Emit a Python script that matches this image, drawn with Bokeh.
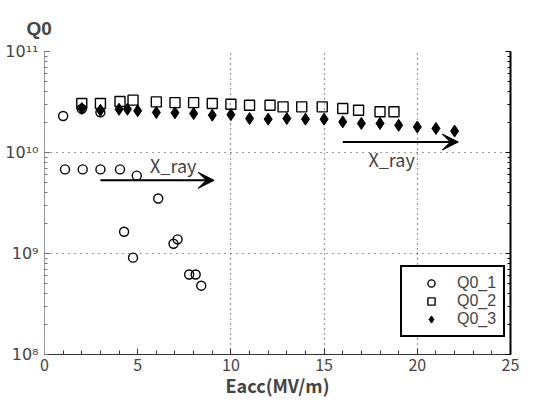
from bokeh.plotting import figure
from bokeh.models import (LogAxis, Legend, LegendItem, Arrow, VeeHead, Label,
                          SingleIntervalTicker, FixedTicker, LogTicker,
                          CustomJSTickFormatter, Range1d)
from bokeh.embed import file_html
from bokeh.resources import INLINE

# ---- data ----
q1_x = [1.0, 2.0, 3.0, 1.1, 2.05, 3.0, 4.05, 4.95, 6.1, 4.27, 4.75, 6.92, 7.14, 7.76, 8.11, 8.41]
q1_y = [2.3e10, 2.7e10, 2.5e10, 6.8e9, 6.8e9, 6.8e9, 6.8e9, 5.9e9, 3.5e9, 1.64e9, 9.1e8,
        1.25e9, 1.38e9, 6.2e8, 6.2e8, 4.8e8]

q2_x = [2.0, 3.0, 4.05, 4.75, 6.0, 7.0, 8.0, 9.0, 10.0, 11.0, 12.1, 12.8, 13.8, 14.9,
        16.0, 16.85, 18.0, 18.75]
q2_y = [3.06e10, 3.06e10, 3.2e10, 3.3e10, 3.17e10, 3.12e10, 3.12e10, 3.06e10, 3.0e10,
        2.94e10, 2.94e10, 2.83e10, 2.83e10, 2.83e10, 2.73e10, 2.62e10, 2.53e10, 2.53e10]

q3_x = [2, 3, 4, 4.45, 5, 6, 7, 8, 9, 10, 11, 12, 13, 14, 15, 16, 17, 18, 19, 20, 21, 22]
q3_y = [2.73e10, 2.62e10, 2.68e10, 2.68e10, 2.59e10, 2.49e10, 2.47e10, 2.43e10, 2.34e10,
        2.37e10, 2.17e10, 2.14e10, 2.17e10, 2.14e10, 2.14e10, 2.01e10, 1.94e10, 1.94e10,
        1.86e10, 1.79e10, 1.73e10, 1.63e10]

series_names = ["Q0_1", "Q0_2", "Q0_3"]
x_label = "Eacc(MV/m)"
y_title = "Q0"
annot_text = "X_ray"

FONT = "Noto Sans CJK JP"

p = figure(frame_width=466, frame_height=303,
           x_range=Range1d(0, 25), y_range=Range1d(1e8, 1e11),
           y_axis_type="log", output_backend="svg", toolbar_location=None,
           min_border_left=44, min_border_right=15, min_border_top=51,
           min_border_bottom=40)
p.outline_line_color = None
p.background_fill_color = "white"
p.border_fill_color = "white"

# title
p.title.text = y_title
p.title.text_font = "Liberation Sans"
p.title.text_font_size = "19px"
p.title.text_font_style = "bold"
p.title.align = "left"
p.title.offset = -18
p.title.standoff = 25

# x axis
p.xaxis.ticker = SingleIntervalTicker(interval=5, num_minor_ticks=5)
p.xaxis.axis_label = x_label
p.xaxis.axis_label_text_font = FONT
p.xaxis.axis_label_text_font_size = "18px"
p.xaxis.axis_label_text_font_style = "bold"
p.xaxis.axis_label_standoff = -2
p.xaxis.major_label_text_font = FONT
p.xaxis.major_label_text_font_size = "16px"
p.xaxis.major_label_standoff = 4
p.xaxis.major_tick_in = 6
p.xaxis.major_tick_out = 0
p.xaxis.minor_tick_in = 4
p.xaxis.minor_tick_out = 0
p.xaxis.axis_line_color = "#333333"
p.xaxis.major_tick_line_color = "#333333"
p.xaxis.minor_tick_line_color = "#333333"

# y axis
p.yaxis.ticker = LogTicker(num_minor_ticks=10)
p.yaxis.formatter = CustomJSTickFormatter(code="""
const sup = {"0":"\u2070","1":"\u00b9","2":"\u00b2","3":"\u00b3","4":"\u2074",
             "5":"\u2075","6":"\u2076","7":"\u2077","8":"\u2078","9":"\u2079"};
const e = Math.round(Math.log10(tick));
return "10" + String(e).split("").map(c => sup[c]).join("");
""")
p.yaxis.major_label_text_font = "DejaVu Sans"
p.yaxis.major_label_text_font_size = "16px"
p.yaxis.major_label_standoff = 6
p.yaxis.major_tick_in = 5
p.yaxis.major_tick_out = 0
p.yaxis.minor_tick_in = 3
p.yaxis.minor_tick_out = 0
p.yaxis.axis_line_color = "#999999"
p.yaxis.major_tick_line_color = "#555555"
p.yaxis.minor_tick_line_color = "#777777"

right = LogAxis(ticker=LogTicker(num_minor_ticks=10),
                formatter=CustomJSTickFormatter(code="return '';"),
                major_tick_in=5, major_tick_out=0, minor_tick_in=3, minor_tick_out=0,
                major_label_standoff=0, axis_line_width=2, axis_line_color="black")
p.add_layout(right, "right")

# grids
p.xgrid.ticker = FixedTicker(ticks=[10, 15, 20])
p.xgrid.grid_line_color = "#333333"
p.xgrid.grid_line_dash = "1 4"
p.xgrid.grid_line_width = 1.2
p.ygrid.grid_line_color = "#333333"
p.ygrid.grid_line_dash = "1 5"
p.ygrid.grid_line_width = 1.2

# data
r1 = p.scatter(q1_x, q1_y, marker="circle", size=9, fill_color=None,
               line_color="black", line_width=1.4)
r2 = p.scatter(q2_x, q2_y, marker="square", size=10, fill_color=None,
               line_color="black", line_width=1.4)
r3 = p.scatter(q3_x, q3_y, marker="diamond", size=12, fill_color="black",
               line_color="black")

# annotations
p.add_layout(Arrow(end=VeeHead(size=16, fill_color="black", line_color="black"),
                   x_start=3.0, y_start=5.3e9, x_end=9.1, y_end=5.3e9,
                   line_width=2, line_color="black"))
p.add_layout(Arrow(end=VeeHead(size=16, fill_color="black", line_color="black"),
                   x_start=16.0, y_start=1.27e10, x_end=22.2, y_end=1.27e10,
                   line_width=2, line_color="black"))
p.add_layout(Label(x=5.66, y=5.65e9, text=annot_text, text_baseline="bottom",
                   text_font=FONT, text_font_size="18px"))
p.add_layout(Label(x=17.38, y=1.16e10, text=annot_text, text_baseline="top",
                   text_font=FONT, text_font_size="18px"))

legend = Legend(items=[LegendItem(label=series_names[0], renderers=[r1]),
                       LegendItem(label=series_names[1], renderers=[r2]),
                       LegendItem(label=series_names[2], renderers=[r3])],
                location=(356, 17), padding=7, spacing=0, glyph_width=44,
                glyph_height=18, label_height=18, label_standoff=4,
                label_text_font="Liberation Sans", label_text_font_size="16px",
                border_line_color="black", border_line_width=2.5,
                border_line_alpha=1.0,
                background_fill_color="white", background_fill_alpha=1)
p.add_layout(legend, "center")

open("out.html", "w").write(file_html(p, INLINE))
